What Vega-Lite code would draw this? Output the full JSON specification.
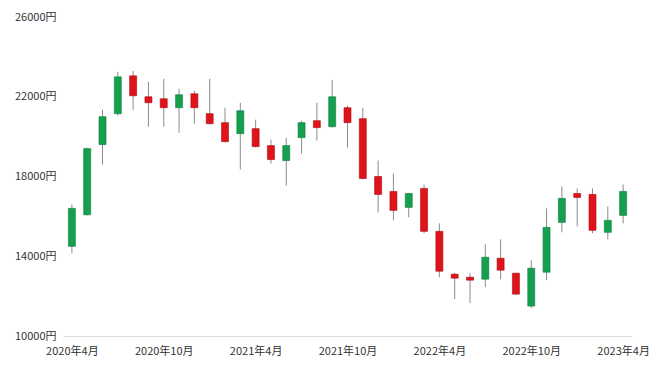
{
  "$schema": "https://vega.github.io/schema/vega-lite/v6.json",
  "autosize": {"type": "none"},
  "padding": {"left": 63, "top": 17, "right": 28, "bottom": 33},
  "width": 569,
  "height": 319,
  "background": "white",
  "config": {
    "view": {"stroke": null},
    "font": "Noto Sans CJK JP",
    "axis": {"labelFont": "Noto Sans CJK JP", "labelFontSize": 11, "labelColor": "#333333", "grid": false, "ticks": false, "title": null}
  },
  "data": {
    "values": [
      {"m": "2020-04", "o": 14500, "h": 16600, "l": 14150, "c": 16400},
      {"m": "2020-05", "o": 16080, "h": 19450, "l": 16050, "c": 19400},
      {"m": "2020-06", "o": 19600, "h": 21350, "l": 18600, "c": 21000},
      {"m": "2020-07", "o": 21150, "h": 23250, "l": 21050, "c": 23000},
      {"m": "2020-08", "o": 23050, "h": 23300, "l": 21350, "c": 22050},
      {"m": "2020-09", "o": 22000, "h": 22750, "l": 20500, "c": 21700},
      {"m": "2020-10", "o": 21900, "h": 22900, "l": 20500, "c": 21450},
      {"m": "2020-11", "o": 21450, "h": 22400, "l": 20200, "c": 22100},
      {"m": "2020-12", "o": 22150, "h": 22300, "l": 20650, "c": 21450},
      {"m": "2021-01", "o": 21150, "h": 22900, "l": 20600, "c": 20650},
      {"m": "2021-02", "o": 20700, "h": 21450, "l": 19700, "c": 19750},
      {"m": "2021-03", "o": 20150, "h": 21700, "l": 18350, "c": 21300},
      {"m": "2021-04", "o": 20400, "h": 20850, "l": 19450, "c": 19500},
      {"m": "2021-05", "o": 19550, "h": 19850, "l": 18650, "c": 18850},
      {"m": "2021-06", "o": 18800, "h": 19950, "l": 17550, "c": 19550},
      {"m": "2021-07", "o": 19950, "h": 20800, "l": 19150, "c": 20700},
      {"m": "2021-08", "o": 20800, "h": 21700, "l": 19800, "c": 20450},
      {"m": "2021-09", "o": 20500, "h": 22850, "l": 20450, "c": 22000},
      {"m": "2021-10", "o": 21450, "h": 21550, "l": 19450, "c": 20700},
      {"m": "2021-11", "o": 20900, "h": 21450, "l": 17850, "c": 17900},
      {"m": "2021-12", "o": 18000, "h": 18800, "l": 16200, "c": 17100},
      {"m": "2022-01", "o": 17250, "h": 18150, "l": 15800, "c": 16300},
      {"m": "2022-02", "o": 16450, "h": 17150, "l": 15950, "c": 17150},
      {"m": "2022-03", "o": 17400, "h": 17600, "l": 15150, "c": 15250},
      {"m": "2022-04", "o": 15250, "h": 15650, "l": 12950, "c": 13250},
      {"m": "2022-05", "o": 13100, "h": 13150, "l": 11850, "c": 12900},
      {"m": "2022-06", "o": 12950, "h": 13150, "l": 11650, "c": 12800},
      {"m": "2022-07", "o": 12850, "h": 14600, "l": 12450, "c": 13950},
      {"m": "2022-08", "o": 13900, "h": 14850, "l": 12850, "c": 13300},
      {"m": "2022-09", "o": 13150, "h": 13150, "l": 12050, "c": 12100},
      {"m": "2022-10", "o": 11500, "h": 13800, "l": 11400, "c": 13400},
      {"m": "2022-11", "o": 13200, "h": 16400, "l": 12800, "c": 15450},
      {"m": "2022-12", "o": 15700, "h": 17500, "l": 15200, "c": 16900},
      {"m": "2023-01", "o": 17150, "h": 17400, "l": 15500, "c": 16950},
      {"m": "2023-02", "o": 17100, "h": 17400, "l": 15150, "c": 15300},
      {"m": "2023-03", "o": 15200, "h": 16500, "l": 14850, "c": 15800},
      {"m": "2023-04", "o": 16050, "h": 17600, "l": 15650, "c": 17250}
    ]
  },
  "encoding": {
    "x": {
      "field": "m",
      "type": "ordinal",
      "sort": null,
      "scale": {"type": "point", "padding": 0.58},
      "axis": {
        "values": ["2020-04", "2020-10", "2021-04", "2021-10", "2022-04", "2022-10", "2023-04"],
        "labelExpr": "split(datum.value, '-')[0] + '年' + toNumber(split(datum.value, '-')[1]) + '月'",
        "labelAngle": 0,
        "domain": true,
        "domainColor": "#dcdcdc",
        "domainWidth": 1,
        "labelPadding": 9
      }
    }
  },
  "layer": [
    {
      "mark": {"type": "rule", "color": "#8c8c8c", "strokeWidth": 1},
      "encoding": {
        "y": {
          "field": "l",
          "type": "quantitative",
          "scale": {"domain": [10000, 26000], "nice": false, "zero": false},
          "axis": {
            "values": [10000, 14000, 18000, 22000, 26000],
            "labelExpr": "datum.value + '円'",
            "domain": false,
            "labelPadding": 7
          }
        },
        "y2": {"field": "h"}
      }
    },
    {
      "mark": {"type": "bar", "size": 7, "strokeWidth": 0.6},
      "encoding": {
        "y": {"field": "o", "type": "quantitative"},
        "y2": {"field": "c"},
        "fill": {
          "condition": {"test": "datum.c >= datum.o", "value": "#14a04f"},
          "value": "#e0121a"
        },
        "stroke": {
          "condition": {"test": "datum.c >= datum.o", "value": "#0e7a3a"},
          "value": "#a80c10"
        }
      }
    }
  ]
}
